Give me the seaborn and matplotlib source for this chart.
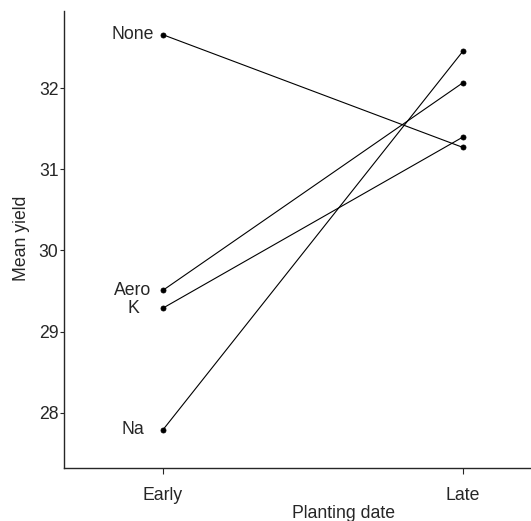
import pandas as pd
import seaborn as sns
import matplotlib
matplotlib.use("Agg")
from matplotlib import pyplot as plt

# 処理ごとの平均収量 (Early / Late)
treatments = ["None", "Aero", "K", "Na"]
dates = ["Early", "Late"]
early_yield = [32.66, 29.51, 29.29, 27.79]
late_yield = [31.27, 32.07, 31.40, 32.46]

df = pd.DataFrame({
    "treatment": treatments * 2,
    "date": ["Early"] * 4 + ["Late"] * 4,
    "yield": early_yield + late_yield,
})

fs = 12.7

sns.set_style("ticks")
plt.rcParams["font.family"] = ["Liberation Sans", "DejaVu Sans"]
plt.rcParams["font.size"] = fs

fig = plt.figure(figsize=(5.31, 5.21), dpi=100)
ax = fig.add_axes([64 / 531, 53 / 521, 466 / 531, 457 / 521])

sns.pointplot(data=df, x="date", y="yield", hue="treatment", order=dates,
              palette=["black"] * 4, markers="o", markersize=3.6,
              linewidth=0.8, errorbar=None, legend=False, ax=ax)

for name, val in zip(treatments, early_yield):
    ax.text(-0.1, val, name, ha="center", va="center", fontsize=fs)

ax.set_xlim(-0.33, 1.223)
ax.set_ylim(27.318, 32.953)
ax.set_yticks([28, 29, 30, 31, 32])
ax.set_xlabel("Planting date", fontsize=fs)
ax.set_ylabel("Mean yield", fontsize=fs)
ax.xaxis.set_label_coords(0.599, -0.080)
ax.yaxis.set_label_coords(-0.073, 0.502)
ax.tick_params(axis="y", length=3, width=0.8, pad=1, labelsize=fs)
ax.tick_params(axis="x", length=4, width=0.8, pad=10, labelsize=fs)
for s in ["left", "bottom"]:
    ax.spines[s].set_linewidth(1.0)
sns.despine(ax=ax)

fig.savefig("out.png", dpi=100)
